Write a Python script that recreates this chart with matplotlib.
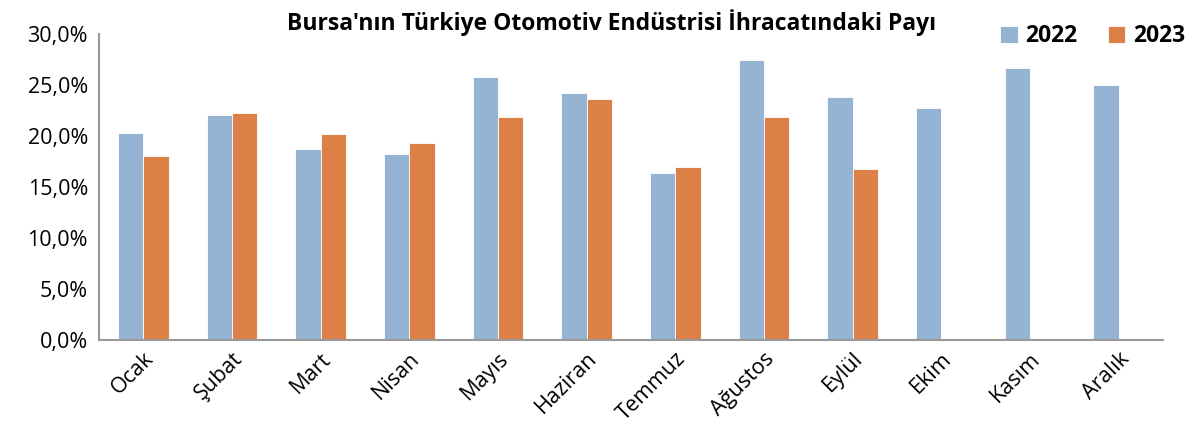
import numpy as np
import matplotlib
matplotlib.use("Agg")
import matplotlib.pyplot as plt
from matplotlib.ticker import FuncFormatter

# ==========================================================
# DATA
# ==========================================================
months = ["Ocak", "Şubat", "Mart", "Nisan", "Mayıs", "Haziran", "Temmuz",
          "Ağustos", "Eylül", "Ekim", "Kasım", "Aralık"]
share_2022 = [20.3, 22.1, 18.7, 18.2, 25.75, 24.2, 16.4, 27.45, 23.8, 22.75, 26.7, 25.0]
share_2023 = [18.0, 22.25, 20.2, 19.3, 21.9, 23.65, 16.95, 21.85, 16.75]
yticks = [0, 5, 10, 15, 20, 25, 30]

title = "Bursa'nın Türkiye Otomotiv Endüstrisi İhracatındaki Payı"

# ==========================================================
# PLOT
# ==========================================================
plt.rcParams['font.family'] = ['Open Sans', 'DejaVu Sans']

fig = plt.figure(figsize=(11.94, 4.43), dpi=100)
ax = fig.add_axes([0.083, 0.2325, 0.891, 0.6905])

x = np.arange(len(months))
w = 0.285
ax.bar(x - w/2, share_2022, w, color='#95B4D3', edgecolor='white', linewidth=0.6, label='2022')
ax.bar(np.arange(len(share_2023)) + w/2, share_2023, w, color='#DD8047',
       edgecolor='white', linewidth=0.6, label='2023')

ax.set_xlim(-0.5, len(months) - 0.5)
ax.set_ylim(0, 30)
ax.set_yticks(yticks)
ax.yaxis.set_major_formatter(FuncFormatter(lambda v, p: f"{v:.1f}%".replace('.', ',')))
ax.set_xticks(x)
ax.set_xticklabels(months, rotation=45, ha='right', rotation_mode='anchor')
ax.tick_params(axis='both', length=0, labelsize=15.5)
ax.tick_params(axis='y', pad=8)
ax.tick_params(axis='x', pad=6)

for s in ['top', 'right']:
    ax.spines[s].set_visible(False)
for s in ['left', 'bottom']:
    ax.spines[s].set_color('#999999')
    ax.spines[s].set_linewidth(1.5)

fig.text(0.512, 0.95, title, ha='center', va='center', fontsize=16.5,
         fontweight='bold', fontstretch='condensed')

ax.legend(loc='upper right', bbox_to_anchor=(1.04, 1.10), ncol=2, frameon=False,
          prop={'size': 16.5, 'weight': 'bold'}, handlelength=0.75, handleheight=0.75,
          handletextpad=0.35, columnspacing=1.3)

fig.savefig("out.png", dpi=100)
